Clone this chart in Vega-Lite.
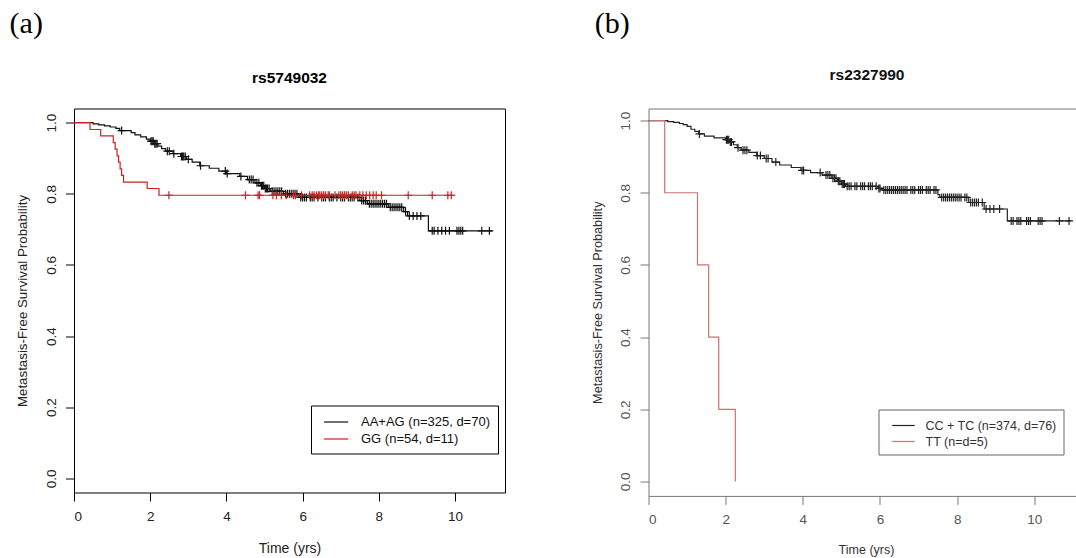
{
  "$schema": "https://vega.github.io/schema/vega-lite/v6.json",
  "background": "white",
  "padding": {"left": 9, "top": 8.5, "right": 0, "bottom": 0},
  "config": {
    "font": "Liberation Sans",
    "axis": {"grid": false, "domain": false, "labelFont": "Liberation Sans", "titleFont": "Liberation Sans", "titleFontWeight": "normal"},
    "legend": {"labelFont": "Liberation Sans"},
    "title": {"font": "Liberation Sans"}
  },
  "resolve": {"scale": {"color": "independent"}, "legend": {"color": "independent"}},
  "spacing": 84.5,
  "datasets": {
    "a": [
      {"group": "AA+AG (n=325, d=70)", "t": 0, "s": 1, "kind": "curve"},
      {"group": "AA+AG (n=325, d=70)", "t": 0.5, "s": 0.997, "kind": "curve"},
      {"group": "AA+AG (n=325, d=70)", "t": 0.65, "s": 0.994, "kind": "curve"},
      {"group": "AA+AG (n=325, d=70)", "t": 0.8, "s": 0.991, "kind": "curve"},
      {"group": "AA+AG (n=325, d=70)", "t": 0.95, "s": 0.988, "kind": "curve"},
      {"group": "AA+AG (n=325, d=70)", "t": 1.1, "s": 0.984, "kind": "curve"},
      {"group": "AA+AG (n=325, d=70)", "t": 1.2, "s": 0.978, "kind": "curve"},
      {"group": "AA+AG (n=325, d=70)", "t": 1.5, "s": 0.972, "kind": "curve"},
      {"group": "AA+AG (n=325, d=70)", "t": 1.6, "s": 0.966, "kind": "curve"},
      {"group": "AA+AG (n=325, d=70)", "t": 1.75, "s": 0.96, "kind": "curve"},
      {"group": "AA+AG (n=325, d=70)", "t": 1.9, "s": 0.954, "kind": "curve"},
      {"group": "AA+AG (n=325, d=70)", "t": 2.0, "s": 0.948, "kind": "curve"},
      {"group": "AA+AG (n=325, d=70)", "t": 2.1, "s": 0.941, "kind": "curve"},
      {"group": "AA+AG (n=325, d=70)", "t": 2.2, "s": 0.934, "kind": "curve"},
      {"group": "AA+AG (n=325, d=70)", "t": 2.3, "s": 0.927, "kind": "curve"},
      {"group": "AA+AG (n=325, d=70)", "t": 2.4, "s": 0.92, "kind": "curve"},
      {"group": "AA+AG (n=325, d=70)", "t": 2.6, "s": 0.913, "kind": "curve"},
      {"group": "AA+AG (n=325, d=70)", "t": 2.8, "s": 0.905, "kind": "curve"},
      {"group": "AA+AG (n=325, d=70)", "t": 2.95, "s": 0.897, "kind": "curve"},
      {"group": "AA+AG (n=325, d=70)", "t": 3.1, "s": 0.889, "kind": "curve"},
      {"group": "AA+AG (n=325, d=70)", "t": 3.3, "s": 0.879, "kind": "curve"},
      {"group": "AA+AG (n=325, d=70)", "t": 3.55, "s": 0.872, "kind": "curve"},
      {"group": "AA+AG (n=325, d=70)", "t": 3.8, "s": 0.864, "kind": "curve"},
      {"group": "AA+AG (n=325, d=70)", "t": 4.0, "s": 0.857, "kind": "curve"},
      {"group": "AA+AG (n=325, d=70)", "t": 4.35, "s": 0.849, "kind": "curve"},
      {"group": "AA+AG (n=325, d=70)", "t": 4.55, "s": 0.84, "kind": "curve"},
      {"group": "AA+AG (n=325, d=70)", "t": 4.75, "s": 0.831, "kind": "curve"},
      {"group": "AA+AG (n=325, d=70)", "t": 4.9, "s": 0.823, "kind": "curve"},
      {"group": "AA+AG (n=325, d=70)", "t": 5.0, "s": 0.815, "kind": "curve"},
      {"group": "AA+AG (n=325, d=70)", "t": 5.15, "s": 0.807, "kind": "curve"},
      {"group": "AA+AG (n=325, d=70)", "t": 5.5, "s": 0.8, "kind": "curve"},
      {"group": "AA+AG (n=325, d=70)", "t": 5.9, "s": 0.79, "kind": "curve"},
      {"group": "AA+AG (n=325, d=70)", "t": 7.5, "s": 0.781, "kind": "curve"},
      {"group": "AA+AG (n=325, d=70)", "t": 7.7, "s": 0.772, "kind": "curve"},
      {"group": "AA+AG (n=325, d=70)", "t": 8.25, "s": 0.762, "kind": "curve"},
      {"group": "AA+AG (n=325, d=70)", "t": 8.65, "s": 0.75, "kind": "curve"},
      {"group": "AA+AG (n=325, d=70)", "t": 8.75, "s": 0.738, "kind": "curve"},
      {"group": "AA+AG (n=325, d=70)", "t": 9.3, "s": 0.696, "kind": "curve"},
      {"group": "AA+AG (n=325, d=70)", "t": 10.97, "s": 0.696, "kind": "curve"},
      {"group": "GG (n=54, d=11)", "t": 0, "s": 1, "kind": "curve"},
      {"group": "GG (n=54, d=11)", "t": 0.42, "s": 0.981, "kind": "curve"},
      {"group": "GG (n=54, d=11)", "t": 0.7, "s": 0.963, "kind": "curve"},
      {"group": "GG (n=54, d=11)", "t": 1.03, "s": 0.944, "kind": "curve"},
      {"group": "GG (n=54, d=11)", "t": 1.08, "s": 0.926, "kind": "curve"},
      {"group": "GG (n=54, d=11)", "t": 1.13, "s": 0.907, "kind": "curve"},
      {"group": "GG (n=54, d=11)", "t": 1.17, "s": 0.889, "kind": "curve"},
      {"group": "GG (n=54, d=11)", "t": 1.21, "s": 0.87, "kind": "curve"},
      {"group": "GG (n=54, d=11)", "t": 1.25, "s": 0.852, "kind": "curve"},
      {"group": "GG (n=54, d=11)", "t": 1.3, "s": 0.833, "kind": "curve"},
      {"group": "GG (n=54, d=11)", "t": 1.92, "s": 0.815, "kind": "curve"},
      {"group": "GG (n=54, d=11)", "t": 2.23, "s": 0.796, "kind": "curve"},
      {"group": "GG (n=54, d=11)", "t": 10.0, "s": 0.796, "kind": "curve"},
      {"group": "AA+AG (n=325, d=70)", "t": 1.25, "s": 0.978, "kind": "censor"},
      {"group": "AA+AG (n=325, d=70)", "t": 2.02, "s": 0.948, "kind": "censor"},
      {"group": "AA+AG (n=325, d=70)", "t": 2.05, "s": 0.948, "kind": "censor"},
      {"group": "AA+AG (n=325, d=70)", "t": 2.08, "s": 0.948, "kind": "censor"},
      {"group": "AA+AG (n=325, d=70)", "t": 2.12, "s": 0.941, "kind": "censor"},
      {"group": "AA+AG (n=325, d=70)", "t": 2.15, "s": 0.941, "kind": "censor"},
      {"group": "AA+AG (n=325, d=70)", "t": 2.18, "s": 0.941, "kind": "censor"},
      {"group": "AA+AG (n=325, d=70)", "t": 2.45, "s": 0.92, "kind": "censor"},
      {"group": "AA+AG (n=325, d=70)", "t": 2.5, "s": 0.92, "kind": "censor"},
      {"group": "AA+AG (n=325, d=70)", "t": 2.62, "s": 0.913, "kind": "censor"},
      {"group": "AA+AG (n=325, d=70)", "t": 2.82, "s": 0.905, "kind": "censor"},
      {"group": "AA+AG (n=325, d=70)", "t": 2.85, "s": 0.905, "kind": "censor"},
      {"group": "AA+AG (n=325, d=70)", "t": 2.88, "s": 0.905, "kind": "censor"},
      {"group": "AA+AG (n=325, d=70)", "t": 2.92, "s": 0.905, "kind": "censor"},
      {"group": "AA+AG (n=325, d=70)", "t": 3.0, "s": 0.897, "kind": "censor"},
      {"group": "AA+AG (n=325, d=70)", "t": 3.32, "s": 0.879, "kind": "censor"},
      {"group": "AA+AG (n=325, d=70)", "t": 3.97, "s": 0.864, "kind": "censor"},
      {"group": "AA+AG (n=325, d=70)", "t": 4.02, "s": 0.857, "kind": "censor"},
      {"group": "AA+AG (n=325, d=70)", "t": 4.38, "s": 0.849, "kind": "censor"},
      {"group": "AA+AG (n=325, d=70)", "t": 4.6, "s": 0.84, "kind": "censor"},
      {"group": "AA+AG (n=325, d=70)", "t": 4.65, "s": 0.84, "kind": "censor"},
      {"group": "AA+AG (n=325, d=70)", "t": 4.7, "s": 0.84, "kind": "censor"},
      {"group": "AA+AG (n=325, d=70)", "t": 4.8, "s": 0.831, "kind": "censor"},
      {"group": "AA+AG (n=325, d=70)", "t": 4.85, "s": 0.831, "kind": "censor"},
      {"group": "AA+AG (n=325, d=70)", "t": 4.92, "s": 0.823, "kind": "censor"},
      {"group": "AA+AG (n=325, d=70)", "t": 4.95, "s": 0.823, "kind": "censor"},
      {"group": "AA+AG (n=325, d=70)", "t": 4.98, "s": 0.823, "kind": "censor"},
      {"group": "AA+AG (n=325, d=70)", "t": 5.02, "s": 0.815, "kind": "censor"},
      {"group": "AA+AG (n=325, d=70)", "t": 5.05, "s": 0.815, "kind": "censor"},
      {"group": "AA+AG (n=325, d=70)", "t": 5.08, "s": 0.815, "kind": "censor"},
      {"group": "AA+AG (n=325, d=70)", "t": 5.12, "s": 0.815, "kind": "censor"},
      {"group": "AA+AG (n=325, d=70)", "t": 5.2, "s": 0.807, "kind": "censor"},
      {"group": "AA+AG (n=325, d=70)", "t": 5.25, "s": 0.807, "kind": "censor"},
      {"group": "AA+AG (n=325, d=70)", "t": 5.3, "s": 0.807, "kind": "censor"},
      {"group": "AA+AG (n=325, d=70)", "t": 5.35, "s": 0.807, "kind": "censor"},
      {"group": "AA+AG (n=325, d=70)", "t": 5.4, "s": 0.807, "kind": "censor"},
      {"group": "AA+AG (n=325, d=70)", "t": 5.45, "s": 0.807, "kind": "censor"},
      {"group": "AA+AG (n=325, d=70)", "t": 5.55, "s": 0.8, "kind": "censor"},
      {"group": "AA+AG (n=325, d=70)", "t": 5.6, "s": 0.8, "kind": "censor"},
      {"group": "AA+AG (n=325, d=70)", "t": 5.65, "s": 0.8, "kind": "censor"},
      {"group": "AA+AG (n=325, d=70)", "t": 5.7, "s": 0.8, "kind": "censor"},
      {"group": "AA+AG (n=325, d=70)", "t": 5.75, "s": 0.8, "kind": "censor"},
      {"group": "AA+AG (n=325, d=70)", "t": 5.8, "s": 0.8, "kind": "censor"},
      {"group": "AA+AG (n=325, d=70)", "t": 5.85, "s": 0.8, "kind": "censor"},
      {"group": "AA+AG (n=325, d=70)", "t": 5.95, "s": 0.79, "kind": "censor"},
      {"group": "AA+AG (n=325, d=70)", "t": 6.0, "s": 0.79, "kind": "censor"},
      {"group": "AA+AG (n=325, d=70)", "t": 6.05, "s": 0.79, "kind": "censor"},
      {"group": "AA+AG (n=325, d=70)", "t": 6.1, "s": 0.79, "kind": "censor"},
      {"group": "AA+AG (n=325, d=70)", "t": 6.2, "s": 0.79, "kind": "censor"},
      {"group": "AA+AG (n=325, d=70)", "t": 6.25, "s": 0.79, "kind": "censor"},
      {"group": "AA+AG (n=325, d=70)", "t": 6.3, "s": 0.79, "kind": "censor"},
      {"group": "AA+AG (n=325, d=70)", "t": 6.4, "s": 0.79, "kind": "censor"},
      {"group": "AA+AG (n=325, d=70)", "t": 6.5, "s": 0.79, "kind": "censor"},
      {"group": "AA+AG (n=325, d=70)", "t": 6.55, "s": 0.79, "kind": "censor"},
      {"group": "AA+AG (n=325, d=70)", "t": 6.6, "s": 0.79, "kind": "censor"},
      {"group": "AA+AG (n=325, d=70)", "t": 6.7, "s": 0.79, "kind": "censor"},
      {"group": "AA+AG (n=325, d=70)", "t": 6.75, "s": 0.79, "kind": "censor"},
      {"group": "AA+AG (n=325, d=70)", "t": 6.8, "s": 0.79, "kind": "censor"},
      {"group": "AA+AG (n=325, d=70)", "t": 6.9, "s": 0.79, "kind": "censor"},
      {"group": "AA+AG (n=325, d=70)", "t": 7.0, "s": 0.79, "kind": "censor"},
      {"group": "AA+AG (n=325, d=70)", "t": 7.05, "s": 0.79, "kind": "censor"},
      {"group": "AA+AG (n=325, d=70)", "t": 7.1, "s": 0.79, "kind": "censor"},
      {"group": "AA+AG (n=325, d=70)", "t": 7.2, "s": 0.79, "kind": "censor"},
      {"group": "AA+AG (n=325, d=70)", "t": 7.25, "s": 0.79, "kind": "censor"},
      {"group": "AA+AG (n=325, d=70)", "t": 7.3, "s": 0.79, "kind": "censor"},
      {"group": "AA+AG (n=325, d=70)", "t": 7.35, "s": 0.79, "kind": "censor"},
      {"group": "AA+AG (n=325, d=70)", "t": 7.45, "s": 0.79, "kind": "censor"},
      {"group": "AA+AG (n=325, d=70)", "t": 7.55, "s": 0.781, "kind": "censor"},
      {"group": "AA+AG (n=325, d=70)", "t": 7.6, "s": 0.781, "kind": "censor"},
      {"group": "AA+AG (n=325, d=70)", "t": 7.65, "s": 0.781, "kind": "censor"},
      {"group": "AA+AG (n=325, d=70)", "t": 7.75, "s": 0.772, "kind": "censor"},
      {"group": "AA+AG (n=325, d=70)", "t": 7.8, "s": 0.772, "kind": "censor"},
      {"group": "AA+AG (n=325, d=70)", "t": 7.85, "s": 0.772, "kind": "censor"},
      {"group": "AA+AG (n=325, d=70)", "t": 7.9, "s": 0.772, "kind": "censor"},
      {"group": "AA+AG (n=325, d=70)", "t": 7.95, "s": 0.772, "kind": "censor"},
      {"group": "AA+AG (n=325, d=70)", "t": 8.0, "s": 0.772, "kind": "censor"},
      {"group": "AA+AG (n=325, d=70)", "t": 8.05, "s": 0.772, "kind": "censor"},
      {"group": "AA+AG (n=325, d=70)", "t": 8.1, "s": 0.772, "kind": "censor"},
      {"group": "AA+AG (n=325, d=70)", "t": 8.15, "s": 0.772, "kind": "censor"},
      {"group": "AA+AG (n=325, d=70)", "t": 8.2, "s": 0.772, "kind": "censor"},
      {"group": "AA+AG (n=325, d=70)", "t": 8.3, "s": 0.762, "kind": "censor"},
      {"group": "AA+AG (n=325, d=70)", "t": 8.35, "s": 0.762, "kind": "censor"},
      {"group": "AA+AG (n=325, d=70)", "t": 8.4, "s": 0.762, "kind": "censor"},
      {"group": "AA+AG (n=325, d=70)", "t": 8.45, "s": 0.762, "kind": "censor"},
      {"group": "AA+AG (n=325, d=70)", "t": 8.5, "s": 0.762, "kind": "censor"},
      {"group": "AA+AG (n=325, d=70)", "t": 8.55, "s": 0.762, "kind": "censor"},
      {"group": "AA+AG (n=325, d=70)", "t": 8.6, "s": 0.762, "kind": "censor"},
      {"group": "AA+AG (n=325, d=70)", "t": 8.7, "s": 0.75, "kind": "censor"},
      {"group": "AA+AG (n=325, d=70)", "t": 8.8, "s": 0.738, "kind": "censor"},
      {"group": "AA+AG (n=325, d=70)", "t": 8.9, "s": 0.738, "kind": "censor"},
      {"group": "AA+AG (n=325, d=70)", "t": 9.0, "s": 0.738, "kind": "censor"},
      {"group": "AA+AG (n=325, d=70)", "t": 9.1, "s": 0.738, "kind": "censor"},
      {"group": "AA+AG (n=325, d=70)", "t": 9.4, "s": 0.696, "kind": "censor"},
      {"group": "AA+AG (n=325, d=70)", "t": 9.45, "s": 0.696, "kind": "censor"},
      {"group": "AA+AG (n=325, d=70)", "t": 9.55, "s": 0.696, "kind": "censor"},
      {"group": "AA+AG (n=325, d=70)", "t": 9.65, "s": 0.696, "kind": "censor"},
      {"group": "AA+AG (n=325, d=70)", "t": 9.75, "s": 0.696, "kind": "censor"},
      {"group": "AA+AG (n=325, d=70)", "t": 9.85, "s": 0.696, "kind": "censor"},
      {"group": "AA+AG (n=325, d=70)", "t": 10.05, "s": 0.696, "kind": "censor"},
      {"group": "AA+AG (n=325, d=70)", "t": 10.1, "s": 0.696, "kind": "censor"},
      {"group": "AA+AG (n=325, d=70)", "t": 10.15, "s": 0.696, "kind": "censor"},
      {"group": "AA+AG (n=325, d=70)", "t": 10.2, "s": 0.696, "kind": "censor"},
      {"group": "AA+AG (n=325, d=70)", "t": 10.7, "s": 0.696, "kind": "censor"},
      {"group": "AA+AG (n=325, d=70)", "t": 10.9, "s": 0.696, "kind": "censor"},
      {"group": "GG (n=54, d=11)", "t": 2.49, "s": 0.796, "kind": "censor"},
      {"group": "GG (n=54, d=11)", "t": 4.5, "s": 0.796, "kind": "censor"},
      {"group": "GG (n=54, d=11)", "t": 4.83, "s": 0.796, "kind": "censor"},
      {"group": "GG (n=54, d=11)", "t": 4.87, "s": 0.796, "kind": "censor"},
      {"group": "GG (n=54, d=11)", "t": 5.22, "s": 0.796, "kind": "censor"},
      {"group": "GG (n=54, d=11)", "t": 5.31, "s": 0.796, "kind": "censor"},
      {"group": "GG (n=54, d=11)", "t": 5.44, "s": 0.796, "kind": "censor"},
      {"group": "GG (n=54, d=11)", "t": 5.57, "s": 0.796, "kind": "censor"},
      {"group": "GG (n=54, d=11)", "t": 5.76, "s": 0.796, "kind": "censor"},
      {"group": "GG (n=54, d=11)", "t": 5.81, "s": 0.796, "kind": "censor"},
      {"group": "GG (n=54, d=11)", "t": 5.97, "s": 0.796, "kind": "censor"},
      {"group": "GG (n=54, d=11)", "t": 6.18, "s": 0.796, "kind": "censor"},
      {"group": "GG (n=54, d=11)", "t": 6.25, "s": 0.796, "kind": "censor"},
      {"group": "GG (n=54, d=11)", "t": 6.3, "s": 0.796, "kind": "censor"},
      {"group": "GG (n=54, d=11)", "t": 6.36, "s": 0.796, "kind": "censor"},
      {"group": "GG (n=54, d=11)", "t": 6.42, "s": 0.796, "kind": "censor"},
      {"group": "GG (n=54, d=11)", "t": 6.45, "s": 0.796, "kind": "censor"},
      {"group": "GG (n=54, d=11)", "t": 6.5, "s": 0.796, "kind": "censor"},
      {"group": "GG (n=54, d=11)", "t": 6.55, "s": 0.796, "kind": "censor"},
      {"group": "GG (n=54, d=11)", "t": 6.6, "s": 0.796, "kind": "censor"},
      {"group": "GG (n=54, d=11)", "t": 6.67, "s": 0.796, "kind": "censor"},
      {"group": "GG (n=54, d=11)", "t": 6.7, "s": 0.796, "kind": "censor"},
      {"group": "GG (n=54, d=11)", "t": 6.85, "s": 0.796, "kind": "censor"},
      {"group": "GG (n=54, d=11)", "t": 6.95, "s": 0.796, "kind": "censor"},
      {"group": "GG (n=54, d=11)", "t": 7.0, "s": 0.796, "kind": "censor"},
      {"group": "GG (n=54, d=11)", "t": 7.05, "s": 0.796, "kind": "censor"},
      {"group": "GG (n=54, d=11)", "t": 7.1, "s": 0.796, "kind": "censor"},
      {"group": "GG (n=54, d=11)", "t": 7.15, "s": 0.796, "kind": "censor"},
      {"group": "GG (n=54, d=11)", "t": 7.2, "s": 0.796, "kind": "censor"},
      {"group": "GG (n=54, d=11)", "t": 7.3, "s": 0.796, "kind": "censor"},
      {"group": "GG (n=54, d=11)", "t": 7.35, "s": 0.796, "kind": "censor"},
      {"group": "GG (n=54, d=11)", "t": 7.4, "s": 0.796, "kind": "censor"},
      {"group": "GG (n=54, d=11)", "t": 7.5, "s": 0.796, "kind": "censor"},
      {"group": "GG (n=54, d=11)", "t": 7.58, "s": 0.796, "kind": "censor"},
      {"group": "GG (n=54, d=11)", "t": 7.67, "s": 0.796, "kind": "censor"},
      {"group": "GG (n=54, d=11)", "t": 7.76, "s": 0.796, "kind": "censor"},
      {"group": "GG (n=54, d=11)", "t": 7.85, "s": 0.796, "kind": "censor"},
      {"group": "GG (n=54, d=11)", "t": 7.93, "s": 0.796, "kind": "censor"},
      {"group": "GG (n=54, d=11)", "t": 8.07, "s": 0.796, "kind": "censor"},
      {"group": "GG (n=54, d=11)", "t": 8.77, "s": 0.796, "kind": "censor"},
      {"group": "GG (n=54, d=11)", "t": 9.4, "s": 0.796, "kind": "censor"},
      {"group": "GG (n=54, d=11)", "t": 9.81, "s": 0.796, "kind": "censor"},
      {"group": "GG (n=54, d=11)", "t": 9.9, "s": 0.796, "kind": "censor"}
    ],
    "b": [
      {"group": "CC + TC (n=374, d=76)", "t": 0, "s": 1, "kind": "curve"},
      {"group": "CC + TC (n=374, d=76)", "t": 0.5, "s": 0.997, "kind": "curve"},
      {"group": "CC + TC (n=374, d=76)", "t": 0.65, "s": 0.995, "kind": "curve"},
      {"group": "CC + TC (n=374, d=76)", "t": 0.8, "s": 0.992, "kind": "curve"},
      {"group": "CC + TC (n=374, d=76)", "t": 0.9, "s": 0.989, "kind": "curve"},
      {"group": "CC + TC (n=374, d=76)", "t": 1.0, "s": 0.984, "kind": "curve"},
      {"group": "CC + TC (n=374, d=76)", "t": 1.1, "s": 0.976, "kind": "curve"},
      {"group": "CC + TC (n=374, d=76)", "t": 1.2, "s": 0.97, "kind": "curve"},
      {"group": "CC + TC (n=374, d=76)", "t": 1.3, "s": 0.963, "kind": "curve"},
      {"group": "CC + TC (n=374, d=76)", "t": 1.45, "s": 0.957, "kind": "curve"},
      {"group": "CC + TC (n=374, d=76)", "t": 1.7, "s": 0.952, "kind": "curve"},
      {"group": "CC + TC (n=374, d=76)", "t": 2.0, "s": 0.947, "kind": "curve"},
      {"group": "CC + TC (n=374, d=76)", "t": 2.1, "s": 0.941, "kind": "curve"},
      {"group": "CC + TC (n=374, d=76)", "t": 2.2, "s": 0.933, "kind": "curve"},
      {"group": "CC + TC (n=374, d=76)", "t": 2.3, "s": 0.925, "kind": "curve"},
      {"group": "CC + TC (n=374, d=76)", "t": 2.4, "s": 0.918, "kind": "curve"},
      {"group": "CC + TC (n=374, d=76)", "t": 2.6, "s": 0.912, "kind": "curve"},
      {"group": "CC + TC (n=374, d=76)", "t": 2.8, "s": 0.903, "kind": "curve"},
      {"group": "CC + TC (n=374, d=76)", "t": 3.0, "s": 0.895, "kind": "curve"},
      {"group": "CC + TC (n=374, d=76)", "t": 3.2, "s": 0.885, "kind": "curve"},
      {"group": "CC + TC (n=374, d=76)", "t": 3.4, "s": 0.877, "kind": "curve"},
      {"group": "CC + TC (n=374, d=76)", "t": 3.7, "s": 0.87, "kind": "curve"},
      {"group": "CC + TC (n=374, d=76)", "t": 3.95, "s": 0.862, "kind": "curve"},
      {"group": "CC + TC (n=374, d=76)", "t": 4.2, "s": 0.856, "kind": "curve"},
      {"group": "CC + TC (n=374, d=76)", "t": 4.5, "s": 0.849, "kind": "curve"},
      {"group": "CC + TC (n=374, d=76)", "t": 4.75, "s": 0.84, "kind": "curve"},
      {"group": "CC + TC (n=374, d=76)", "t": 4.9, "s": 0.832, "kind": "curve"},
      {"group": "CC + TC (n=374, d=76)", "t": 5.0, "s": 0.824, "kind": "curve"},
      {"group": "CC + TC (n=374, d=76)", "t": 5.1, "s": 0.818, "kind": "curve"},
      {"group": "CC + TC (n=374, d=76)", "t": 5.95, "s": 0.812, "kind": "curve"},
      {"group": "CC + TC (n=374, d=76)", "t": 6.05, "s": 0.808, "kind": "curve"},
      {"group": "CC + TC (n=374, d=76)", "t": 7.5, "s": 0.795, "kind": "curve"},
      {"group": "CC + TC (n=374, d=76)", "t": 7.55, "s": 0.787, "kind": "curve"},
      {"group": "CC + TC (n=374, d=76)", "t": 8.3, "s": 0.773, "kind": "curve"},
      {"group": "CC + TC (n=374, d=76)", "t": 8.7, "s": 0.755, "kind": "curve"},
      {"group": "CC + TC (n=374, d=76)", "t": 9.3, "s": 0.722, "kind": "curve"},
      {"group": "CC + TC (n=374, d=76)", "t": 10.95, "s": 0.722, "kind": "curve"},
      {"group": "TT (n=d=5)", "t": 0, "s": 1, "kind": "curve"},
      {"group": "TT (n=d=5)", "t": 0.42, "s": 0.8, "kind": "curve"},
      {"group": "TT (n=d=5)", "t": 1.27, "s": 0.6, "kind": "curve"},
      {"group": "TT (n=d=5)", "t": 1.56, "s": 0.4, "kind": "curve"},
      {"group": "TT (n=d=5)", "t": 1.82, "s": 0.2, "kind": "curve"},
      {"group": "TT (n=d=5)", "t": 2.25, "s": 0.0, "kind": "curve"},
      {"group": "CC + TC (n=374, d=76)", "t": 1.32, "s": 0.963, "kind": "censor"},
      {"group": "CC + TC (n=374, d=76)", "t": 2.02, "s": 0.947, "kind": "censor"},
      {"group": "CC + TC (n=374, d=76)", "t": 2.05, "s": 0.947, "kind": "censor"},
      {"group": "CC + TC (n=374, d=76)", "t": 2.08, "s": 0.947, "kind": "censor"},
      {"group": "CC + TC (n=374, d=76)", "t": 2.12, "s": 0.941, "kind": "censor"},
      {"group": "CC + TC (n=374, d=76)", "t": 2.15, "s": 0.941, "kind": "censor"},
      {"group": "CC + TC (n=374, d=76)", "t": 2.32, "s": 0.925, "kind": "censor"},
      {"group": "CC + TC (n=374, d=76)", "t": 2.45, "s": 0.918, "kind": "censor"},
      {"group": "CC + TC (n=374, d=76)", "t": 2.5, "s": 0.918, "kind": "censor"},
      {"group": "CC + TC (n=374, d=76)", "t": 2.55, "s": 0.918, "kind": "censor"},
      {"group": "CC + TC (n=374, d=76)", "t": 2.82, "s": 0.903, "kind": "censor"},
      {"group": "CC + TC (n=374, d=76)", "t": 2.9, "s": 0.903, "kind": "censor"},
      {"group": "CC + TC (n=374, d=76)", "t": 3.05, "s": 0.895, "kind": "censor"},
      {"group": "CC + TC (n=374, d=76)", "t": 3.1, "s": 0.895, "kind": "censor"},
      {"group": "CC + TC (n=374, d=76)", "t": 3.3, "s": 0.885, "kind": "censor"},
      {"group": "CC + TC (n=374, d=76)", "t": 3.98, "s": 0.862, "kind": "censor"},
      {"group": "CC + TC (n=374, d=76)", "t": 4.02, "s": 0.862, "kind": "censor"},
      {"group": "CC + TC (n=374, d=76)", "t": 4.45, "s": 0.856, "kind": "censor"},
      {"group": "CC + TC (n=374, d=76)", "t": 4.6, "s": 0.849, "kind": "censor"},
      {"group": "CC + TC (n=374, d=76)", "t": 4.65, "s": 0.849, "kind": "censor"},
      {"group": "CC + TC (n=374, d=76)", "t": 4.7, "s": 0.849, "kind": "censor"},
      {"group": "CC + TC (n=374, d=76)", "t": 4.78, "s": 0.84, "kind": "censor"},
      {"group": "CC + TC (n=374, d=76)", "t": 4.82, "s": 0.84, "kind": "censor"},
      {"group": "CC + TC (n=374, d=76)", "t": 4.86, "s": 0.84, "kind": "censor"},
      {"group": "CC + TC (n=374, d=76)", "t": 4.92, "s": 0.832, "kind": "censor"},
      {"group": "CC + TC (n=374, d=76)", "t": 4.96, "s": 0.832, "kind": "censor"},
      {"group": "CC + TC (n=374, d=76)", "t": 5.02, "s": 0.824, "kind": "censor"},
      {"group": "CC + TC (n=374, d=76)", "t": 5.05, "s": 0.824, "kind": "censor"},
      {"group": "CC + TC (n=374, d=76)", "t": 5.08, "s": 0.824, "kind": "censor"},
      {"group": "CC + TC (n=374, d=76)", "t": 5.15, "s": 0.818, "kind": "censor"},
      {"group": "CC + TC (n=374, d=76)", "t": 5.2, "s": 0.818, "kind": "censor"},
      {"group": "CC + TC (n=374, d=76)", "t": 5.25, "s": 0.818, "kind": "censor"},
      {"group": "CC + TC (n=374, d=76)", "t": 5.35, "s": 0.818, "kind": "censor"},
      {"group": "CC + TC (n=374, d=76)", "t": 5.4, "s": 0.818, "kind": "censor"},
      {"group": "CC + TC (n=374, d=76)", "t": 5.5, "s": 0.818, "kind": "censor"},
      {"group": "CC + TC (n=374, d=76)", "t": 5.55, "s": 0.818, "kind": "censor"},
      {"group": "CC + TC (n=374, d=76)", "t": 5.6, "s": 0.818, "kind": "censor"},
      {"group": "CC + TC (n=374, d=76)", "t": 5.7, "s": 0.818, "kind": "censor"},
      {"group": "CC + TC (n=374, d=76)", "t": 5.75, "s": 0.818, "kind": "censor"},
      {"group": "CC + TC (n=374, d=76)", "t": 5.8, "s": 0.818, "kind": "censor"},
      {"group": "CC + TC (n=374, d=76)", "t": 5.9, "s": 0.818, "kind": "censor"},
      {"group": "CC + TC (n=374, d=76)", "t": 5.97, "s": 0.812, "kind": "censor"},
      {"group": "CC + TC (n=374, d=76)", "t": 6.0, "s": 0.812, "kind": "censor"},
      {"group": "CC + TC (n=374, d=76)", "t": 6.1, "s": 0.808, "kind": "censor"},
      {"group": "CC + TC (n=374, d=76)", "t": 6.15, "s": 0.808, "kind": "censor"},
      {"group": "CC + TC (n=374, d=76)", "t": 6.2, "s": 0.808, "kind": "censor"},
      {"group": "CC + TC (n=374, d=76)", "t": 6.25, "s": 0.808, "kind": "censor"},
      {"group": "CC + TC (n=374, d=76)", "t": 6.3, "s": 0.808, "kind": "censor"},
      {"group": "CC + TC (n=374, d=76)", "t": 6.35, "s": 0.808, "kind": "censor"},
      {"group": "CC + TC (n=374, d=76)", "t": 6.4, "s": 0.808, "kind": "censor"},
      {"group": "CC + TC (n=374, d=76)", "t": 6.45, "s": 0.808, "kind": "censor"},
      {"group": "CC + TC (n=374, d=76)", "t": 6.5, "s": 0.808, "kind": "censor"},
      {"group": "CC + TC (n=374, d=76)", "t": 6.55, "s": 0.808, "kind": "censor"},
      {"group": "CC + TC (n=374, d=76)", "t": 6.6, "s": 0.808, "kind": "censor"},
      {"group": "CC + TC (n=374, d=76)", "t": 6.65, "s": 0.808, "kind": "censor"},
      {"group": "CC + TC (n=374, d=76)", "t": 6.7, "s": 0.808, "kind": "censor"},
      {"group": "CC + TC (n=374, d=76)", "t": 6.8, "s": 0.808, "kind": "censor"},
      {"group": "CC + TC (n=374, d=76)", "t": 6.85, "s": 0.808, "kind": "censor"},
      {"group": "CC + TC (n=374, d=76)", "t": 6.9, "s": 0.808, "kind": "censor"},
      {"group": "CC + TC (n=374, d=76)", "t": 7.0, "s": 0.808, "kind": "censor"},
      {"group": "CC + TC (n=374, d=76)", "t": 7.05, "s": 0.808, "kind": "censor"},
      {"group": "CC + TC (n=374, d=76)", "t": 7.1, "s": 0.808, "kind": "censor"},
      {"group": "CC + TC (n=374, d=76)", "t": 7.2, "s": 0.808, "kind": "censor"},
      {"group": "CC + TC (n=374, d=76)", "t": 7.25, "s": 0.808, "kind": "censor"},
      {"group": "CC + TC (n=374, d=76)", "t": 7.3, "s": 0.808, "kind": "censor"},
      {"group": "CC + TC (n=374, d=76)", "t": 7.4, "s": 0.808, "kind": "censor"},
      {"group": "CC + TC (n=374, d=76)", "t": 7.45, "s": 0.808, "kind": "censor"},
      {"group": "CC + TC (n=374, d=76)", "t": 7.6, "s": 0.787, "kind": "censor"},
      {"group": "CC + TC (n=374, d=76)", "t": 7.65, "s": 0.787, "kind": "censor"},
      {"group": "CC + TC (n=374, d=76)", "t": 7.7, "s": 0.787, "kind": "censor"},
      {"group": "CC + TC (n=374, d=76)", "t": 7.75, "s": 0.787, "kind": "censor"},
      {"group": "CC + TC (n=374, d=76)", "t": 7.8, "s": 0.787, "kind": "censor"},
      {"group": "CC + TC (n=374, d=76)", "t": 7.85, "s": 0.787, "kind": "censor"},
      {"group": "CC + TC (n=374, d=76)", "t": 7.9, "s": 0.787, "kind": "censor"},
      {"group": "CC + TC (n=374, d=76)", "t": 7.95, "s": 0.787, "kind": "censor"},
      {"group": "CC + TC (n=374, d=76)", "t": 8.0, "s": 0.787, "kind": "censor"},
      {"group": "CC + TC (n=374, d=76)", "t": 8.05, "s": 0.787, "kind": "censor"},
      {"group": "CC + TC (n=374, d=76)", "t": 8.1, "s": 0.787, "kind": "censor"},
      {"group": "CC + TC (n=374, d=76)", "t": 8.2, "s": 0.787, "kind": "censor"},
      {"group": "CC + TC (n=374, d=76)", "t": 8.25, "s": 0.787, "kind": "censor"},
      {"group": "CC + TC (n=374, d=76)", "t": 8.35, "s": 0.773, "kind": "censor"},
      {"group": "CC + TC (n=374, d=76)", "t": 8.4, "s": 0.773, "kind": "censor"},
      {"group": "CC + TC (n=374, d=76)", "t": 8.45, "s": 0.773, "kind": "censor"},
      {"group": "CC + TC (n=374, d=76)", "t": 8.5, "s": 0.773, "kind": "censor"},
      {"group": "CC + TC (n=374, d=76)", "t": 8.55, "s": 0.773, "kind": "censor"},
      {"group": "CC + TC (n=374, d=76)", "t": 8.65, "s": 0.773, "kind": "censor"},
      {"group": "CC + TC (n=374, d=76)", "t": 8.75, "s": 0.755, "kind": "censor"},
      {"group": "CC + TC (n=374, d=76)", "t": 8.85, "s": 0.755, "kind": "censor"},
      {"group": "CC + TC (n=374, d=76)", "t": 8.95, "s": 0.755, "kind": "censor"},
      {"group": "CC + TC (n=374, d=76)", "t": 9.1, "s": 0.755, "kind": "censor"},
      {"group": "CC + TC (n=374, d=76)", "t": 9.4, "s": 0.722, "kind": "censor"},
      {"group": "CC + TC (n=374, d=76)", "t": 9.45, "s": 0.722, "kind": "censor"},
      {"group": "CC + TC (n=374, d=76)", "t": 9.55, "s": 0.722, "kind": "censor"},
      {"group": "CC + TC (n=374, d=76)", "t": 9.6, "s": 0.722, "kind": "censor"},
      {"group": "CC + TC (n=374, d=76)", "t": 9.65, "s": 0.722, "kind": "censor"},
      {"group": "CC + TC (n=374, d=76)", "t": 9.8, "s": 0.722, "kind": "censor"},
      {"group": "CC + TC (n=374, d=76)", "t": 9.85, "s": 0.722, "kind": "censor"},
      {"group": "CC + TC (n=374, d=76)", "t": 9.9, "s": 0.722, "kind": "censor"},
      {"group": "CC + TC (n=374, d=76)", "t": 10.1, "s": 0.722, "kind": "censor"},
      {"group": "CC + TC (n=374, d=76)", "t": 10.15, "s": 0.722, "kind": "censor"},
      {"group": "CC + TC (n=374, d=76)", "t": 10.2, "s": 0.722, "kind": "censor"},
      {"group": "CC + TC (n=374, d=76)", "t": 10.65, "s": 0.722, "kind": "censor"},
      {"group": "CC + TC (n=374, d=76)", "t": 10.9, "s": 0.722, "kind": "censor"}
    ]
  },
  "hconcat": [
    {
      "title": {"text": "(a)", "anchor": "start", "font": "Liberation Serif", "fontSize": 30, "fontWeight": "normal", "color": "black", "dx": -4.9, "offset": 31},
      "vconcat": [
        {
          "width": 431,
          "height": 384,
          "title": {"text": "rs5749032", "fontSize": 15.5, "fontWeight": "bold", "color": "black", "offset": 22.5},
          "view": {"stroke": "black", "strokeWidth": 1},
          "data": {"name": "a"},
          "encoding": {
            "x": {"field": "t", "type": "quantitative", "scale": {"domain": [0, 11.31], "nice": false, "zero": false},
              "axis": {"values": [0, 2, 4, 6, 8, 10], "format": "d", "tickSize": 8.5, "tickColor": "black", "labelPadding": 8.5, "labelFontSize": 13.5, "labelColor": "#222", "title": "Time (yrs)", "titleFontSize": 14, "titleColor": "#222", "titlePadding": 18}},
            "y": {"field": "s", "type": "quantitative", "scale": {"domain": [-0.04, 1.04], "nice": false, "zero": false},
              "axis": {"values": [0, 0.2, 0.4, 0.6, 0.8, 1.0], "format": ".1f", "labelAngle": 270, "labelAlign": "center", "labelBaseline": "alphabetic", "tickSize": 8.5, "tickColor": "black", "labelPadding": 10.5, "labelFontSize": 13.5, "labelColor": "#222", "title": "Metastasis-Free Survival Probability", "titleFontSize": 13.3, "titleColor": "#222", "titlePadding": 15}},
            "color": {"field": "group", "type": "nominal",
              "scale": {"domain": ["AA+AG (n=325, d=70)", "GG (n=54, d=11)"], "range": ["#111111", "#cc2222"]},
              "legend": {"title": null, "orient": "none", "legendX": 237, "legendY": 297, "symbolType": "M-0.4,0H2.44", "symbolSize": 289, "symbolStrokeWidth": 1.2, "labelFontSize": 13, "labelColor": "#111", "labelOffset": 24, "labelLimit": 400, "rowPadding": 0, "padding": 7, "strokeColor": "black", "fillColor": "white", "cornerRadius": 0}}
          },
          "layer": [
            {"transform": [{"filter": "datum.kind === 'curve'"}], "mark": {"type": "line", "interpolate": "step-after", "strokeWidth": 1.2}},
            {"transform": [{"filter": "datum.kind === 'censor'"}], "mark": {"type": "point", "shape": "M0,-1V1M-1,0H1", "size": 64, "filled": false, "strokeWidth": 1.2, "opacity": 1}}
          ]
        }
      ]
    },
    {
      "title": {"text": "(b)", "anchor": "start", "font": "Liberation Serif", "fontSize": 30, "fontWeight": "normal", "color": "black", "dx": 3.8, "offset": 28.8},
      "vconcat": [
        {
          "width": 441,
          "height": 387.4,
          "title": {"text": "rs2327990", "fontSize": 15.5, "fontWeight": "bold", "color": "#111", "offset": 24.7, "dx": -2},
          "view": {"stroke": "#777777", "strokeWidth": 1},
          "data": {"name": "b"},
          "encoding": {
            "x": {"field": "t", "type": "quantitative", "scale": {"domain": [0, 11.43], "nice": false, "zero": false},
              "axis": {"values": [0, 2, 4, 6, 8, 10], "format": "d", "tickSize": 8.5, "tickColor": "#777", "labelPadding": 8, "labelFontSize": 13.5, "labelColor": "#555", "title": "Time (yrs)", "titleFontSize": 12.5, "titleColor": "#333", "titlePadding": 18, "titleX": 217.5}},
            "y": {"field": "s", "type": "quantitative", "scale": {"domain": [-0.04, 1.0335], "nice": false, "zero": false},
              "axis": {"values": [0, 0.2, 0.4, 0.6, 0.8, 1.0], "format": ".1f", "labelAngle": 270, "labelAlign": "center", "labelBaseline": "alphabetic", "tickSize": 8.5, "tickColor": "#777", "labelPadding": 10.5, "labelFontSize": 13.5, "labelColor": "#555", "title": "Metastasis-Free Survival Probability", "titleFontSize": 12.7, "titleColor": "#333", "titlePadding": 14}},
            "color": {"field": "group", "type": "nominal",
              "scale": {"domain": ["CC + TC (n=374, d=76)", "TT (n=d=5)"], "range": ["#222222", "#d07070"]},
              "legend": {"title": null, "orient": "none", "legendX": 230, "legendY": 301, "symbolType": "M-0.27,0H2.38", "symbolSize": 289, "symbolStrokeWidth": 1.2, "labelFontSize": 12.5, "labelColor": "#333", "labelOffset": 21.5, "labelLimit": 400, "rowPadding": 0, "padding": 6.5, "strokeColor": "#666", "fillColor": "white", "cornerRadius": 0}}
          },
          "layer": [
            {"transform": [{"filter": "datum.kind === 'curve'"}], "mark": {"type": "line", "interpolate": "step-after", "strokeWidth": 1.2}},
            {"transform": [{"filter": "datum.kind === 'censor'"}], "mark": {"type": "point", "shape": "M0,-1V1M-1,0H1", "size": 64, "filled": false, "strokeWidth": 1.2, "opacity": 1}}
          ]
        }
      ]
    }
  ]
}
